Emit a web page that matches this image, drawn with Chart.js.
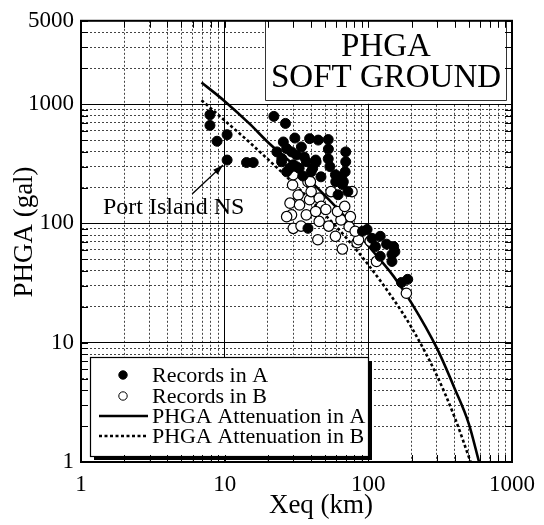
<!DOCTYPE html>
<html>
<head>
<meta charset="utf-8">
<script src="https://cdn.jsdelivr.net/npm/chart.js@4.4.1/dist/chart.umd.min.js"></script>
<style>
html, body { margin: 0; padding: 0; background: #fff; }
#wrap { width: 544px; height: 525px; }
</style>
</head>
<body>
<div id="wrap"><canvas id="chart" width="544" height="525"></canvas></div>
<script>
// ===============================
// DATA
// ===============================
const aDist = [7.9, 7.9, 8.85, 10.4, 10.4, 14.2, 15.8, 22, 26.5, 25.6, 27, 25, 28.3, 30.8, 31.6, 33, 37, 39, 41, 43,
               44.8, 35, 30, 52.6, 52.7, 52.6, 54, 69, 67, 64.5, 61.6, 59, 66, 38, 98, 121, 134, 146, 146, 150,
               188, 170, 91, 106,
               23.1, 24.9, 29.2, 31.6, 35.8, 40, 43.3, 34.2, 27, 46.8, 59.3, 69.6, 69.6, 72, 112, 153, 121];
const aPhga = [815, 664, 489, 555, 340, 324, 324, 790, 690, 482, 424, 350, 290, 520, 375, 290, 330, 514, 290, 340,
               500, 250, 310, 505, 420, 348, 300, 271, 224, 246, 174, 256, 212, 91, 89, 78, 67, 55, 48, 64,
               34, 32, 86, 75,
               398, 329, 398, 299, 361, 271, 329, 438, 271, 246, 224, 329, 398, 185, 64, 58, 53];

const bDist = [29.7, 38, 32.5, 28.5, 33.2, 39, 45.5, 47, 29.2, 37, 45.5, 30, 44.5, 64.5, 61, 73.5, 83.5, 95.5,
               30, 39.5, 66, 68.5, 50.6, 85.5, 103, 114, 184, 55, 77,
               40, 27, 34, 43, 53, 59, 75, 81];
const bPhga = [210, 224, 173, 148, 143, 158, 163, 139, 118, 118, 104, 91, 73, 107, 126, 94, 69, 78,
               256, 224, 61, 139, 131, 73, 71, 48, 26, 185, 185,
               185, 114, 95, 126, 95, 78, 114, 86];

const lineADist = [6.9, 10, 15, 20, 30, 50, 70, 100, 150, 200, 300, 400, 500, 590];
const lineAPhga = [1520, 1060, 680, 480, 313, 171, 111, 65, 36, 21.5, 9.0, 4.1, 2.1, 1.0];

const lineBDist = [6.9, 10, 15, 20, 30, 50, 70, 100, 150, 200, 300, 400, 515];
const lineBPhga = [1080, 730, 475, 345, 218, 118, 76, 45, 23, 13.4, 5.3, 2.35, 1.0];

const portIsland = [10.4, 340];

const xTickLabels = [1, 10, 100, 1000];
const yTickLabels = [1, 10, 100, 1000, 5000];
const multiples = [1, 2, 3, 4, 5, 6, 7, 8, 9];

// ===============================
// HELPERS
// ===============================
const SERIF = "'Liberation Serif', 'Times New Roman', serif";

function toPoints(xs, ys) {
    return xs.map((x, i) => ({ x: x, y: ys[i] }));
}

function logTicks(min, max) {
    const ticks = [];
    for (let d = 1; d <= max; d *= 10) {
        multiples.forEach(m => {
            const v = m * d;
            if (v >= min && v <= max) ticks.push({ value: v });
        });
    }
    return ticks;
}

function isMajor(value, labels) {
    return labels.includes(value);
}

// ===============================
// OVERLAY (frame, boxes, legend, annotation, axis titles)
// ===============================
const overlayPlugin = {
    id: "overlay",
    afterDraw(chart) {
        const { ctx, chartArea: area, scales } = chart;
        ctx.save();

        // title box
        ctx.fillStyle = "#fff";
        ctx.fillRect(265, area.top + 1, 241, 82);
        ctx.strokeStyle = "#333";
        ctx.lineWidth = 1;
        ctx.beginPath();
        ctx.moveTo(265.5, area.top);
        ctx.lineTo(265.5, 100.5);
        ctx.lineTo(506.5, 100.5);
        ctx.lineTo(506.5, area.top);
        ctx.stroke();
        ctx.fillStyle = "#000";
        ctx.font = "33px " + SERIF;
        ctx.textAlign = "center";
        ctx.textBaseline = "alphabetic";
        ctx.fillText("PHGA", 386, 56);
        ctx.fillText("SOFT GROUND", 386, 87);

        // annotation
        const tipX = scales.x.getPixelForValue(portIsland[0]) - 4;
        const tipY = scales.y.getPixelForValue(portIsland[1]) + 5;
        const tailX = tipX - 31, tailY = tipY + 29;
        ctx.strokeStyle = "#000";
        ctx.lineWidth = 1.3;
        ctx.beginPath();
        ctx.moveTo(tailX, tailY);
        ctx.lineTo(tipX, tipY);
        ctx.stroke();
        const ang = Math.atan2(tipY - tailY, tipX - tailX);
        ctx.beginPath();
        ctx.moveTo(tipX, tipY);
        ctx.lineTo(tipX - 11 * Math.cos(ang - 0.3), tipY - 11 * Math.sin(ang - 0.3));
        ctx.lineTo(tipX - 11 * Math.cos(ang + 0.3), tipY - 11 * Math.sin(ang + 0.3));
        ctx.closePath();
        ctx.fillStyle = "#000";
        ctx.fill();
        ctx.font = "24px " + SERIF;
        ctx.textAlign = "left";
        ctx.fillText("Port Island NS", 103, 214);

        // legend box with shadow
        const lx = 90, ly = 357, lw = 278, lh = 99;
        ctx.fillStyle = "#000";
        ctx.fillRect(lx + 4, ly + 4, lw, lh);
        ctx.fillStyle = "#fff";
        ctx.fillRect(lx, ly, lw, lh);
        ctx.strokeStyle = "#000";
        ctx.lineWidth = 1.2;
        ctx.strokeRect(lx + 0.5, ly + 0.5, lw, lh);

        const rows = [375, 396, 416, 436];
        ctx.font = "22px " + SERIF;
        ctx.textBaseline = "middle";
        chart.data.datasets.forEach((d, i) => {
            const y = rows[i];
            if (d.type === "scatter") {
                ctx.beginPath();
                ctx.arc(123, y, 4.2, 0, Math.PI * 2);
                ctx.fillStyle = d.backgroundColor;
                ctx.fill();
                ctx.strokeStyle = "#000";
                ctx.lineWidth = 1;
                ctx.stroke();
            } else {
                ctx.beginPath();
                ctx.setLineDash(d.borderDash || []);
                ctx.strokeStyle = "#000";
                ctx.lineWidth = d.borderWidth;
                ctx.moveTo(99, y);
                ctx.lineTo(148, y);
                ctx.stroke();
                ctx.setLineDash([]);
            }
            ctx.fillStyle = "#000";
            ctx.fillText(d.label, 152, y + 1);
        });

        // inward tick marks on all four sides
        ctx.strokeStyle = "#000";
        ctx.lineWidth = 1;
        const tl = 7;
        scales.x.ticks.forEach(t => {
            const px = Math.round(scales.x.getPixelForValue(t.value)) + 0.5;
            ctx.beginPath();
            ctx.moveTo(px, area.bottom); ctx.lineTo(px, area.bottom - tl);
            ctx.moveTo(px, area.top); ctx.lineTo(px, area.top + tl);
            ctx.stroke();
        });
        scales.y.ticks.forEach(t => {
            const py = Math.round(scales.y.getPixelForValue(t.value)) + 0.5;
            ctx.beginPath();
            ctx.moveTo(area.left, py); ctx.lineTo(area.left + tl, py);
            ctx.moveTo(area.right, py); ctx.lineTo(area.right - tl, py);
            ctx.stroke();
        });

        // frame
        ctx.lineWidth = 2;
        ctx.strokeRect(area.left, area.top, area.right - area.left, area.bottom - area.top);

        // axis titles
        ctx.fillStyle = "#000";
        ctx.font = "27px " + SERIF;
        ctx.textAlign = "center";
        ctx.textBaseline = "alphabetic";
        ctx.fillText("Xeq (km)", 321, 513);
        ctx.translate(32, 232);
        ctx.rotate(-Math.PI / 2);
        ctx.fillText("PHGA (gal)", 0, 0);

        ctx.restore();
    }
};

// ===============================
// CHART
// ===============================
Chart.defaults.font.family = SERIF;
Chart.defaults.color = "#000";

new Chart(document.getElementById("chart"), {
    data: {
        datasets: [
            {
                type: "scatter",
                label: "Records in A",
                data: toPoints(aDist, aPhga),
                backgroundColor: "#000",
                borderColor: "#000",
                borderWidth: 1,
                pointRadius: 5
            },
            {
                type: "scatter",
                label: "Records in B",
                data: toPoints(bDist, bPhga),
                backgroundColor: "#fff",
                borderColor: "#000",
                borderWidth: 1.2,
                pointRadius: 5.2
            },
            {
                type: "line",
                label: "PHGA Attenuation in A",
                data: toPoints(lineADist, lineAPhga),
                borderColor: "#000",
                borderWidth: 2.6,
                pointRadius: 0,
                cubicInterpolationMode: "monotone",
                fill: false
            },
            {
                type: "line",
                label: "PHGA Attenuation in B",
                data: toPoints(lineBDist, lineBPhga),
                borderColor: "#000",
                borderWidth: 2.6,
                borderDash: [3, 2.5],
                pointRadius: 0,
                cubicInterpolationMode: "monotone",
                fill: false
            }
        ]
    },
    options: {
        responsive: false,
        animation: false,
        layout: { padding: { top: 18, right: 25, left: 0, bottom: 0 } },
        plugins: {
            legend: { display: false },
            tooltip: { enabled: false }
        },
        scales: {
            x: {
                type: "logarithmic",
                min: 1,
                max: 1000,
                afterBuildTicks: s => { s.ticks = logTicks(1, 1000); },
                afterFit: s => { s.height = 63; },
                ticks: {
                    autoSkip: false,
                    maxRotation: 0,
                    padding: 9,
                    font: { size: 23 },
                    callback: v => isMajor(v, xTickLabels) ? String(v) : ""
                },
                grid: {
                    drawTicks: false,
                    color: ctx => isMajor(ctx.tick && ctx.tick.value, xTickLabels) ? "#000" : "#444",
                    lineWidth: 1
                },
                border: {
                    color: "#000",
                    width: 2,
                    dash: ctx => (ctx.tick && !isMajor(ctx.tick.value, xTickLabels)) ? [2, 2] : []
                },
                title: { display: false, text: "Xeq (km)" }
            },
            y: {
                type: "logarithmic",
                min: 1,
                max: 5000,
                afterBuildTicks: s => { s.ticks = logTicks(1, 5000); },
                afterFit: s => { s.width = 81; },
                ticks: {
                    autoSkip: false,
                    padding: 7,
                    font: { size: 23 },
                    callback: v => isMajor(v, yTickLabels) ? String(v) : ""
                },
                grid: {
                    drawTicks: false,
                    color: ctx => isMajor(ctx.tick && ctx.tick.value, yTickLabels) ? "#000" : "#444",
                    lineWidth: 1
                },
                border: {
                    color: "#000",
                    width: 2,
                    dash: ctx => (ctx.tick && !isMajor(ctx.tick.value, yTickLabels)) ? [2, 2] : []
                },
                title: { display: false, text: "PHGA (gal)" }
            }
        }
    },
    plugins: [overlayPlugin]
});
</script>
</body>
</html>
